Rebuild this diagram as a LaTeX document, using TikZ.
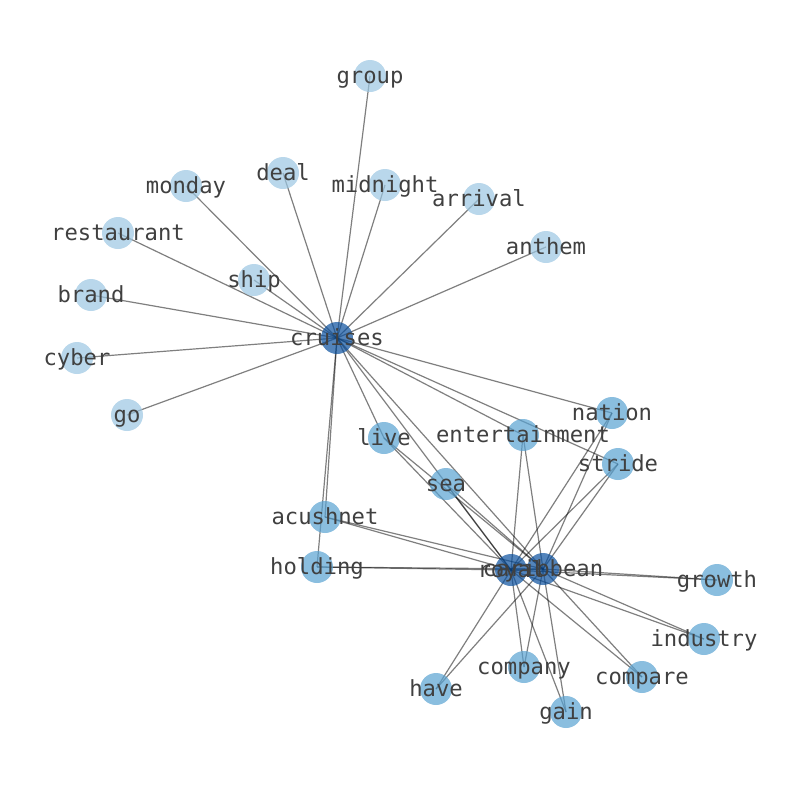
\documentclass[tikz,border=0pt]{standalone}
\usepackage{fontspec}
\newfontfamily\monofont{DejaVu Sans Mono}
\usetikzlibrary{backgrounds}
\definecolor{nlight}{RGB}{155,198,226}
\definecolor{nmed}{RGB}{88,162,210}
\definecolor{ndark}{RGB}{10,80,158}
\definecolor{lbl}{RGB}{64,64,64}
\tikzset{
  vtx/.style={circle,minimum size=32pt,inner sep=0pt,fill opacity=0.7,draw=none},
  lightv/.style={vtx,fill=nlight},
  medv/.style={vtx,fill=nmed},
  darkv/.style={vtx,fill=ndark},
  txt/.style={inner sep=0pt,text=lbl,font=\monofont\fontsize{22.2}{24}\selectfont,text height=0.8em,text depth=0.2em,yshift=-4.5pt},
  edge/.style={draw=black,draw opacity=0.5,line width=1.2pt}
}
\begin{document}
\begin{tikzpicture}[x=1pt,y=-1pt]
\useasboundingbox (0,0) rectangle (794,790);
% nodes
\node[darkv] (cruises) at (337,338) {};
\node[lightv] (group) at (370,76) {};
\node[lightv] (deal) at (283,173) {};
\node[lightv] (monday) at (186,186) {};
\node[lightv] (midnight) at (385,185) {};
\node[lightv] (arrival) at (479,199) {};
\node[lightv] (restaurant) at (118,233) {};
\node[lightv] (anthem) at (546,247) {};
\node[lightv] (ship) at (254,280) {};
\node[lightv] (brand) at (91,295) {};
\node[lightv] (cyber) at (77,358) {};
\node[lightv] (go) at (127,415) {};
\node[medv] (nation) at (612,413) {};
\node[medv] (live) at (384,438) {};
\node[medv] (entertainment) at (523,435) {};
\node[medv] (stride) at (618,464) {};
\node[medv] (sea) at (446,484) {};
\node[medv] (acushnet) at (325,517) {};
\node[medv] (holding) at (317,567) {};
\node[darkv] (royal) at (511,570) {};
\node[darkv] (caribbean) at (543,569) {};
\node[medv] (growth) at (717,580) {};
\node[medv] (industry) at (704,639) {};
\node[medv] (company) at (524,667) {};
\node[medv] (compare) at (642,677) {};
\node[medv] (have) at (436,689) {};
\node[medv] (gain) at (566,712) {};
% edges
\begin{scope}[on background layer]
\foreach \n in {group,deal,monday,midnight,arrival,restaurant,anthem,ship,brand,cyber,go,nation,entertainment,stride,live,acushnet,holding,royal,caribbean}
  \draw[edge] (cruises.center) -- (\n.center);
\foreach \n in {live,sea,entertainment,nation,stride,acushnet,holding,growth,industry,company,compare,have,gain}{
  \draw[edge] (royal.center) -- (\n.center);
  \draw[edge] (caribbean.center) -- (\n.center);
}
\draw[edge] (royal.center) -- (caribbean.center);
\end{scope}
% labels
\foreach \n in {cruises,group,deal,monday,midnight,arrival,restaurant,anthem,ship,brand,cyber,go,nation,live,entertainment,stride,sea,acushnet,holding,royal,caribbean,growth,industry,company,compare,have,gain}
  \node[txt] (lbl-\n) at (\n.center) {\n};
\end{tikzpicture}
\end{document}
